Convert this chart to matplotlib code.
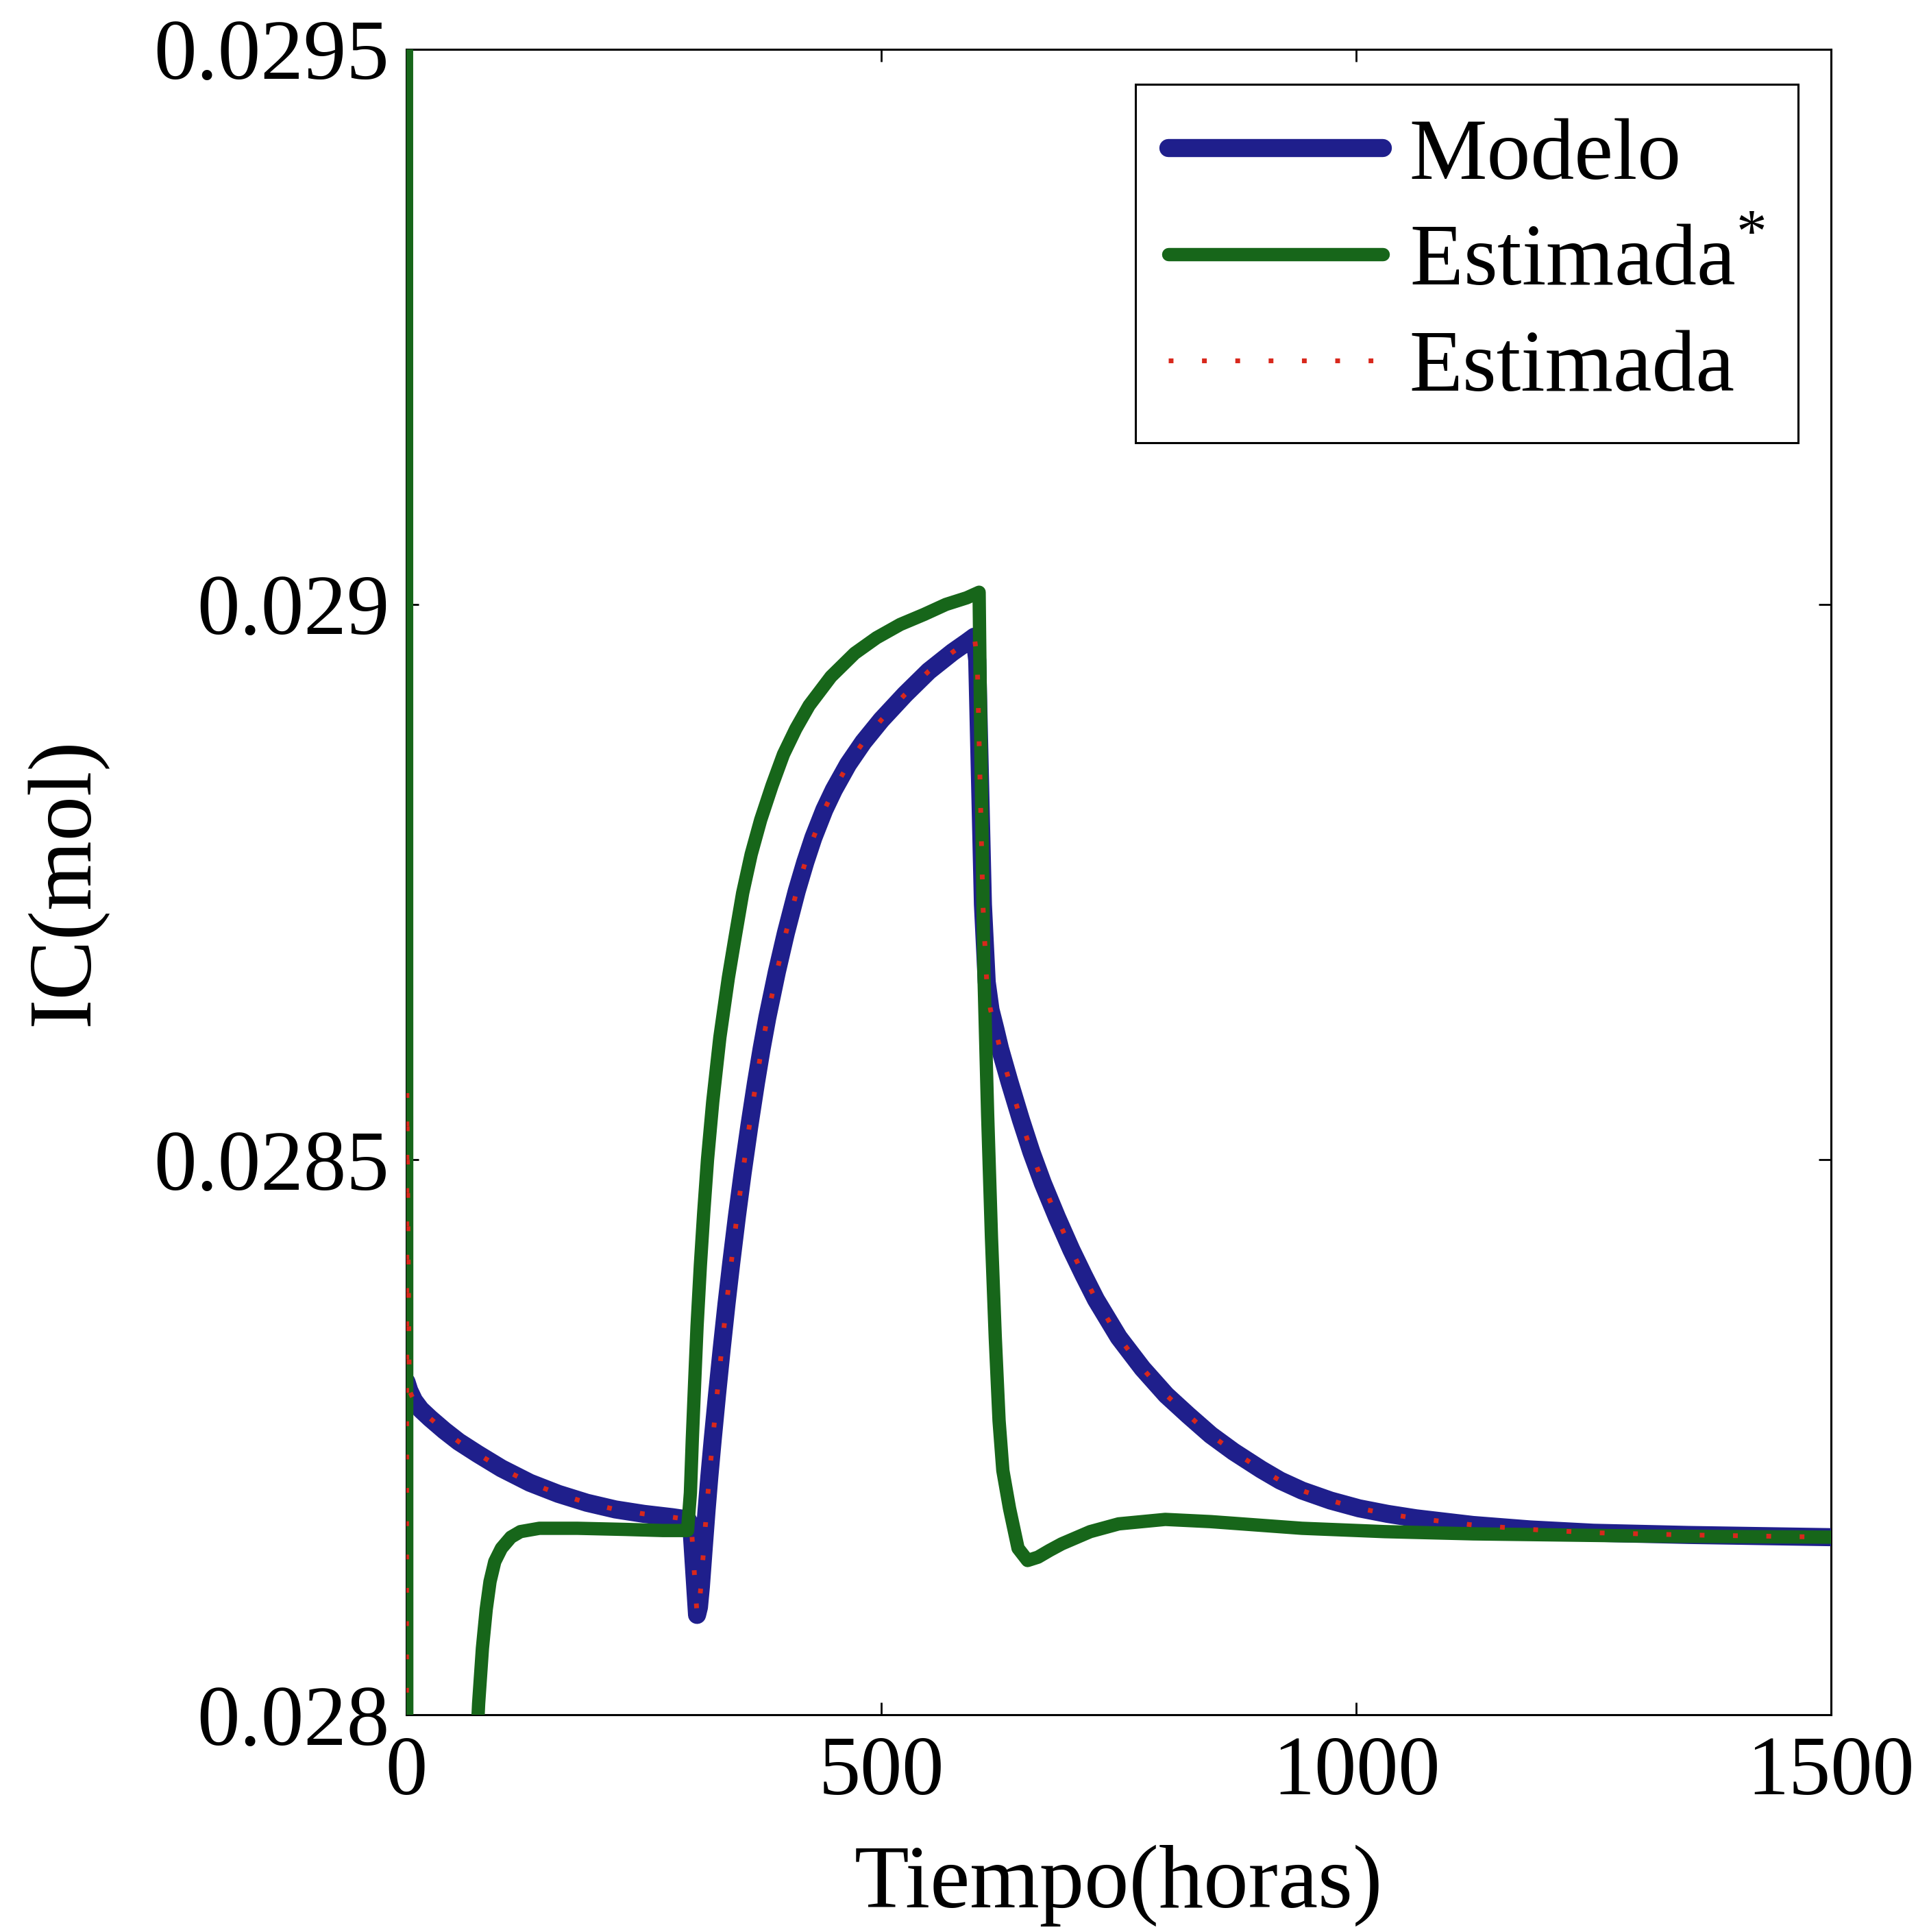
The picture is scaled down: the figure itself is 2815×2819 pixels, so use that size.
import matplotlib
matplotlib.use("Agg")
import matplotlib.pyplot as plt

plt.rcParams['font.family'] = ['Liberation Serif', 'DejaVu Serif']
plt.rcParams['mathtext.fontset'] = 'custom'
plt.rcParams['mathtext.rm'] = 'Liberation Serif'

# ---- data ----
modelo_t = [0, 3, 8, 15, 25, 40, 55, 75, 100, 130, 160, 190, 220, 250, 280, 296,
            300, 303, 306, 308, 310, 313, 316, 319, 322.5, 327, 332, 337, 342, 348,
            354, 361, 368, 374, 380, 390, 399.5, 411, 420, 428.5, 440, 450, 465,
            481, 500, 525, 550, 575, 590, 598, 601, 604, 607, 611, 615, 620, 625,
            635, 647, 658, 670, 685, 700, 713, 726, 750, 775, 800, 823, 847, 871,
            900, 920, 943, 973, 1003, 1033, 1063, 1093, 1123, 1183, 1250, 1350, 1500]
modelo_v = [0.02830, 0.028292, 0.028283, 0.028275, 0.028267, 0.028256, 0.028246,
            0.028235, 0.028222, 0.028209, 0.028199, 0.028191, 0.028185, 0.028181,
            0.028178, 0.028176, 0.028170, 0.028130, 0.028090, 0.028097, 0.028115,
            0.028150, 0.028184, 0.028215, 0.028248, 0.028288, 0.028330, 0.028370,
            0.028407, 0.028449, 0.028488, 0.028530, 0.028569, 0.028600, 0.028628,
            0.028669, 0.028704, 0.028742, 0.028768, 0.028790, 0.028815, 0.028833,
            0.028856, 0.028876, 0.028896, 0.028919, 0.028940, 0.028957, 0.028966,
            0.028971, 0.028950, 0.028840, 0.028730, 0.028660, 0.028635, 0.028618,
            0.028600, 0.028570, 0.028536, 0.028507, 0.028479, 0.028448, 0.028419,
            0.028396, 0.028374, 0.028340, 0.028312, 0.028288, 0.028270, 0.028252,
            0.028237, 0.028221, 0.028211, 0.028202, 0.028193, 0.028186, 0.028181,
            0.028177, 0.028174, 0.028171, 0.028167, 0.028164, 0.028162, 0.028160]

est_star_t = [0, 0.5, 40, 60, 70, 76, 80, 84, 88, 93, 100, 110, 120, 140, 180, 230,
              270, 296, 299, 301, 303.5, 306, 309.5, 313, 317, 322.5, 330, 339, 346,
              354, 363, 373, 385, 397, 410, 424, 447, 472, 495, 520, 545, 568, 590,
              603, 605, 608, 612, 616, 620, 624, 628, 635, 644, 654, 665, 677, 690,
              720, 750, 799, 847, 943, 1030, 1123, 1304, 1500]
est_star_v = [0.0300, 0.0270, 0.0272, 0.0276, 0.02790, 0.02801, 0.02806, 0.028095,
              0.028120, 0.028138, 0.028150, 0.028160, 0.028165, 0.028168, 0.028168,
              0.028167, 0.028166, 0.028166, 0.028200, 0.028248, 0.028300, 0.028350,
              0.028405, 0.028452, 0.028500, 0.028552, 0.028610, 0.028664, 0.028700,
              0.028740, 0.028775, 0.028806, 0.028837, 0.028865, 0.028888, 0.028909,
              0.028935, 0.028956, 0.028970, 0.028982, 0.028991, 0.029000, 0.029006,
              0.029011, 0.028860, 0.028670, 0.028540, 0.028430, 0.028340, 0.028265,
              0.028220, 0.028186, 0.028150, 0.028139, 0.028142, 0.028148, 0.028154,
              0.028165, 0.028172, 0.028176, 0.028174, 0.028168, 0.028165, 0.028163,
              0.028161, 0.028160]

# 'Estimada' follows the model except for its very first instants
est_start_t = [0, 0.5]
est_start_v = [0.02790, 0.02856]
est_t = est_start_t + modelo_t[1:]
est_v = est_start_v + modelo_v[1:]

labels = ['Modelo', 'Estimada$^{*}$', 'Estimada']
xticks = [0, 500, 1000, 1500]
yticks = [0.028, 0.0285, 0.029, 0.0295]
ytick_labels = ['0.028', '0.0285', '0.029', '0.0295']

# ---- figure ----
fig = plt.figure(figsize=(28.15, 28.19), dpi=100)
ax = fig.add_axes([0.2107, 0.1124, 0.7385, 0.8621])

ax.plot(modelo_t, modelo_v, color='#1f1f8c', lw=19, solid_capstyle='round',
        solid_joinstyle='round', label=labels[0], zorder=2)
ax.plot(est_star_t, est_star_v, color='#17661a', lw=14, solid_capstyle='round',
        solid_joinstyle='round', label=labels[1], zorder=3)
ax.plot(est_t, est_v, color='#d8281c', lw=5, linestyle=(0, (1.0, 6)),
        label=labels[2], zorder=4)

ax.set_xlim(0, 1500)
ax.set_ylim(0.028, 0.0295)
ax.set_xticks(xticks)
ax.set_xticklabels([str(v) for v in xticks])
ax.set_yticks(yticks)
ax.set_yticklabels(ytick_labels)

for s in ax.spines.values():
    s.set_linewidth(2.2)
    s.set_color('black')
    s.set_zorder(1)

ax.tick_params(axis='both', which='major', direction='in', length=13, width=2,
               top=True, right=True)
ax.tick_params(axis='y', pad=18, labelsize=90)
ax.tick_params(axis='x', pad=22, labelsize=88)

ax.set_xlabel('Tiempo(horas)', fontsize=94)
ax.set_ylabel('IC(mol)', fontsize=94)
ax.xaxis.set_label_coords(0.5, -0.078)
ax.yaxis.set_label_coords(-0.21, 0.5)

leg = ax.legend(loc='upper right', bbox_to_anchor=(0.977, 0.979), borderaxespad=0,
                fontsize=92, handlelength=2.45, handletextpad=0.3, labelspacing=0.3,
                borderpad=0.38, fancybox=False, framealpha=1, edgecolor='black')
leg.get_frame().set_linewidth(2.2)

fig.savefig('out.png', dpi=100, facecolor='white')
